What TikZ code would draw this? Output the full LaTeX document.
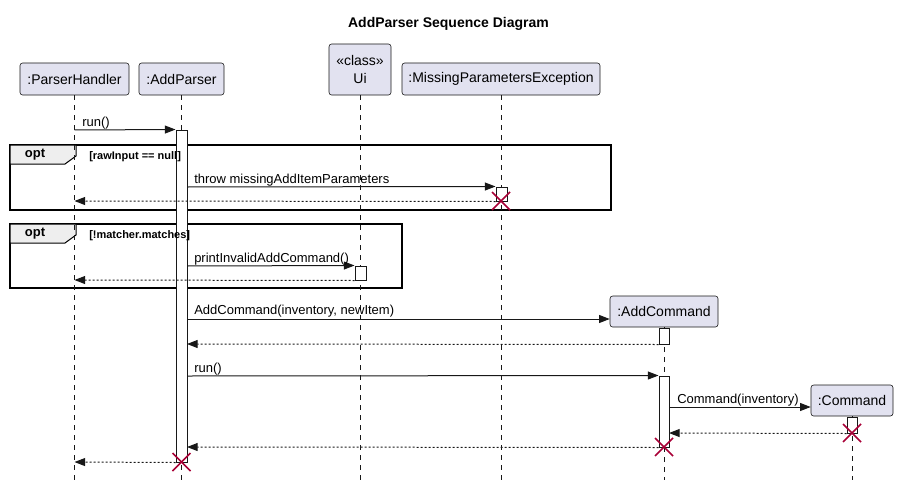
\documentclass[tikz,border=0pt]{standalone}
\usepackage{fontspec}
\setmainfont{Liberation Sans}
\usetikzlibrary{arrows.meta}
\definecolor{pfill}{HTML}{E2E2F0}
\definecolor{pdraw}{HTML}{181818}
\definecolor{xred}{HTML}{A80036}
\definecolor{tabfill}{HTML}{EEEEEE}
\begin{document}
\begin{tikzpicture}[x=0.75pt,y=-0.75pt,
  part/.style={draw=pdraw, fill=pfill, rounded corners=2pt, line width=0.45pt,
    font=\fontsize{10.5}{13}\selectfont, inner sep=0pt, align=center},
  life/.style={draw=pdraw, line width=0.4pt, dash pattern=on 3.75pt off 3.75pt},
  actbox/.style={draw=pdraw, fill=white, line width=0.75pt, inner sep=0pt, minimum width=8.25pt},
  msg/.style={draw=pdraw, line width=0.75pt, -{Triangle[length=8pt,width=6pt]}},
  ret/.style={msg, dash pattern=on 1.5pt off 1.5pt},
  lbl/.style={anchor=base west, inner sep=0pt, font=\fontsize{9.75}{11}\selectfont},
  frm/.style={draw=black, line width=1.1pt},
  tabshape/.style={draw=black, fill=tabfill, line width=0.75pt},
  guard/.style={anchor=base west, inner sep=0pt, font=\bfseries\fontsize{8.25}{10}\selectfont},
  optlbl/.style={inner sep=0pt, font=\bfseries\fontsize{9.75}{11}\selectfont},
  xmark/.style={draw=xred, line width=1.1pt},
]
\useasboundingbox (0,0) rectangle (898,485);

% title
\node[font=\bfseries\fontsize{10.5}{13}\selectfont] (title) at (448.5,24) {AddParser Sequence Diagram};

% opt frames
\draw[frm] (10,145) rectangle (611,210);
\draw[tabshape] (10,145) -- (76,145) -- (76,156) -- (65,164) -- (10,164) -- cycle;
\node[optlbl] (opt1) at (35,155) {opt};
\draw[frm] (10,224) rectangle (402,288);
\draw[tabshape] (10,224) -- (76,224) -- (76,235) -- (65,243) -- (10,243) -- cycle;
\node[optlbl] (opt2) at (35,234) {opt};

% participants
\node[part, minimum width=81.75pt, minimum height=24pt] (ph) at (74.5,79) {:ParserHandler};
\node[part, minimum width=63.75pt, minimum height=24pt] (ap) at (181.5,79) {:AddParser};
\node[part, minimum width=46.5pt, minimum height=38.25pt] (ui) at (360,69.5) {«class»\\Ui};
\node[part, minimum width=148.5pt, minimum height=24pt] (mpe) at (501,79) {:MissingParametersException};
\node[part, minimum width=81pt, minimum height=23.25pt] (ac) at (664,311.5) {:AddCommand};
\node[part, minimum width=61.5pt, minimum height=23.25pt] (cmd) at (852,400.5) {:Command};

% lifeline ends
\coordinate (phE) at (74.5,480);
\coordinate (apE) at (181.5,480);
\coordinate (uiE) at (360,480);
\coordinate (mpeE) at (501,480);
\coordinate (acE) at (664,480);
\coordinate (cmdE) at (852,480);
\draw[life] (ph.south) -- (phE);
\draw[life] (ap.south) -- (apE);
\draw[life] (ui.south) -- (uiE);
\draw[life] (mpe.south) -- (mpeE);
\draw[life] (ac.south) -- (acE);
\draw[life] (cmd.south) -- (cmdE);

% activations
\node[actbox, minimum height=249pt] (apact) at (181.5,296) {};
\node[actbox, minimum height=10.5pt] (mpeact) at (501.5,194) {};
\node[actbox, minimum height=10.5pt] (uiact) at (360.5,273) {};
\node[actbox, minimum width=7.5pt, minimum height=12pt] (acact1) at (664,336) {};
\node[actbox, minimum width=7.5pt, minimum height=53.25pt] (acact2) at (664,411.5) {};
\node[actbox, minimum width=7.5pt, minimum height=12pt] (cmdact) at (852,425) {};

% message coordinates
\coordinate (m1s) at (74.5,130);
\coordinate (m2s) at (187,187);
\coordinate (m3e) at (74.5,201);
\coordinate (m4s) at (187,266);
\coordinate (m5e) at (74.5,280);
\coordinate (m6s) at (187,319);
\coordinate (m7e) at (187,344);
\coordinate (m8s) at (187,376);
\coordinate (m9s) at (669,407);
\coordinate (m10e) at (669,433);
\coordinate (m11e) at (187,447);
\coordinate (m12e) at (74.5,462);

% messages
\draw[msg] (m1s) -- (apact.north west);
\node[lbl] (l1) at (82,126) {run()};
\draw[msg] (m2s) -- (mpeact.north west);
\node[lbl] (l2) at (194,183) {throw missingAddItemParameters};
\draw[ret] (mpeact.south west) -- (m3e);
\draw[msg] (m4s) -- (uiact.north west);
\node[lbl] (l4) at (194,262) {printInvalidAddCommand()};
\draw[ret] (uiact.south west) -- (m5e);
\draw[msg] (m6s) -- (m6s -| ac.west);
\node[lbl] (l6) at (194,314) {AddCommand(inventory, newItem)};
\draw[ret] (acact1.south west) -- (m7e);
\draw[msg] (m8s) -- (acact2.north west);
\node[lbl] (l8) at (194,372) {run()};
\draw[msg] (m9s) -- (m9s -| cmd.west);
\node[lbl] (l9) at (677,403) {Command(inventory)};
\draw[ret] (cmdact.south west) -- (m10e);
\draw[ret] (acact2.south west) -- (m11e);
\draw[ret] (apact.south west) -- (m12e);

% guards (on top)
\node[guard] (g1) at (89,159) {[rawInput == null]};
\node[guard] (g2) at (89,238) {[!matcher.matches]};

% destroy marks
\coordinate (x1) at (501,201);
\coordinate (x2) at (852,433);
\coordinate (x3) at (664,447);
\coordinate (x4) at (181.5,462);
\foreach \p in {x1,x2,x3,x4}{
  \draw[xmark] ([shift={(-9,-9)}]\p) -- ([shift={(9,9)}]\p);
  \draw[xmark] ([shift={(-9,9)}]\p) -- ([shift={(9,-9)}]\p);
}
\end{tikzpicture}
\end{document}
